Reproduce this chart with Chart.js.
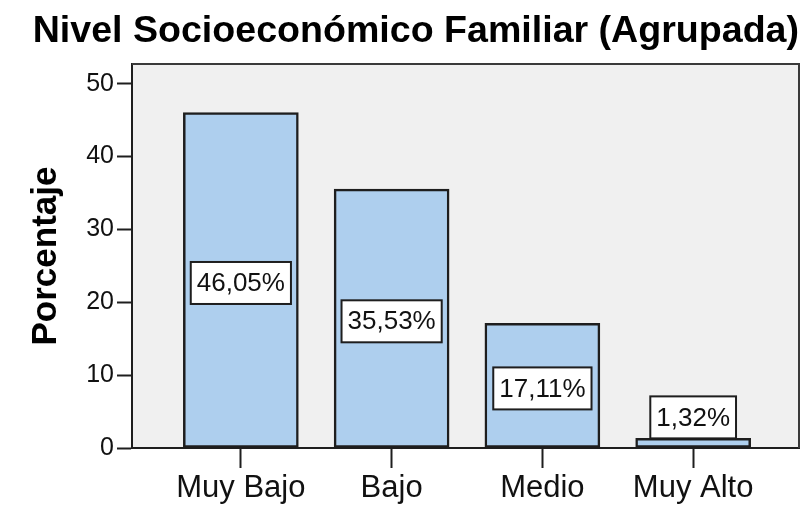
<!DOCTYPE html>
<html>
<head>
<meta charset="utf-8">
<script src="https://cdn.jsdelivr.net/npm/chart.js@4.4.1/dist/chart.umd.min.js"></script>
<style>
  html, body { margin: 0; padding: 0; background: #ffffff; }
  #wrap { width: 802px; height: 507px; }
</style>
</head>
<body>
<div id="wrap"><canvas id="chart" width="802" height="507"></canvas></div>
<script>
// Data
const categories = ["Muy Bajo", "Bajo", "Medio", "Muy Alto"];
const percentages = [46.05, 35.53, 17.11, 1.32];
const yTicks = [0, 10, 20, 30, 40, 50];

const FONT = "'Liberation Sans', Arial, sans-serif";
const INK = "#1e1e1e";

// Plot background + top/right frame
const plotFrame = {
    id: "plotFrame",
    beforeDraw(chart) {
        const { ctx, chartArea: a } = chart;
        ctx.save();
        ctx.fillStyle = "#f0f0f0";
        ctx.fillRect(a.left, a.top, a.right - a.left, a.bottom - a.top);
        ctx.restore();
    },
    afterDraw(chart) {
        const { ctx, chartArea: a } = chart;
        ctx.save();
        ctx.strokeStyle = "#3a3a3a";
        ctx.lineWidth = 2;
        ctx.beginPath();
        ctx.moveTo(a.left, a.top);
        ctx.lineTo(a.right, a.top);
        ctx.lineTo(a.right, a.bottom);
        ctx.stroke();
        ctx.restore();
    }
};

// Boxed percentage labels
const boxLabels = {
    id: "boxLabels",
    afterDatasetsDraw(chart) {
        const { ctx } = chart;
        const meta = chart.getDatasetMeta(0);
        ctx.save();
        ctx.font = "26px " + FONT;
        ctx.textAlign = "center";
        ctx.textBaseline = "middle";
        meta.data.forEach((bar, i) => {
            const text = percentages[i].toFixed(2).replace(".", ",") + "%";
            const w = ctx.measureText(text).width + 12;
            const h = 42;
            let cy = (bar.y + bar.base) / 2 + 3;
            if (bar.base - bar.y < h + 10) cy = bar.y - h / 2;
            ctx.fillStyle = "#ffffff";
            ctx.fillRect(bar.x - w / 2, cy - h / 2, w, h);
            ctx.strokeStyle = INK;
            ctx.lineWidth = 2;
            ctx.strokeRect(bar.x - w / 2, cy - h / 2, w, h);
            ctx.fillStyle = "#111111";
            ctx.fillText(text, bar.x, cy + 1);
        });
        ctx.restore();
    }
};

const ctx = document.getElementById("chart").getContext("2d");

new Chart(ctx, {
    type: "bar",
    data: {
        datasets: [{
            data: percentages.map((v, i) => ({ x: i + 1, y: v })),
            backgroundColor: "#aecfee",
            borderColor: INK,
            borderWidth: 2.5,
            borderSkipped: false,
            barThickness: 115
        }]
    },
    options: {
        responsive: false,
        animation: false,
        layout: { padding: { right: 3 } },
        plugins: {
            legend: { display: false },
            tooltip: { enabled: false },
            title: {
                display: true,
                text: "Nivel Socioeconómico Familiar (Agrupada)",
                color: "#000000",
                align: "end",
                font: { family: FONT, size: 37.6, weight: "bold", lineHeight: 1 },
                padding: { top: 13.2, bottom: 13.2 }
            }
        },
        scales: {
            x: {
                type: "linear",
                offset: false,
                min: 0.278,
                max: 4.702,
                afterBuildTicks(scale) {
                    scale.ticks = categories.map((c, i) => ({ value: i + 1 }));
                },
                afterFit(scale) { scale.height = 59; },
                ticks: {
                    color: "#111111",
                    font: { family: FONT, size: 31 },
                    padding: 2,
                    maxRotation: 0,
                    autoSkip: false,
                    callback: (v) => categories[v - 1]
                },
                grid: { offset: false, drawOnChartArea: false, tickLength: 20, tickWidth: 2, tickColor: INK },
                border: { display: true, color: INK, width: 2 }
            },
            y: {
                min: 0,
                max: 52.7,
                afterBuildTicks(scale) {
                    scale.ticks = yTicks.map(v => ({ value: v }));
                },
                afterFit(scale) { scale.width = 132; },
                ticks: {
                    color: "#111111",
                    font: { family: FONT, size: 25 },
                    padding: 3
                },
                grid: { drawOnChartArea: false, tickLength: 15, tickWidth: 2, tickColor: INK },
                border: { display: true, color: INK, width: 2 },
                title: {
                    display: true,
                    text: "Porcentaje",
                    color: "#000000",
                    font: { family: FONT, size: 35, weight: "bold", lineHeight: 1.2 },
                    padding: { top: 25, bottom: 0 }
                }
            }
        }
    },
    plugins: [plotFrame, boxLabels]
});
</script>
</body>
</html>
